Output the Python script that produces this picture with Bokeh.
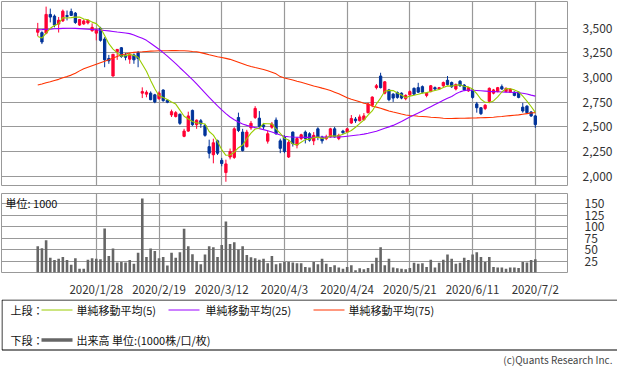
from bokeh.plotting import figure
from bokeh.layouts import column
from bokeh.models import Range1d, FixedTicker, Label, ColumnDataSource, NumeralTickFormatter
from bokeh.embed import file_html
from bokeh.resources import INLINE
from bokeh.core.properties import value
import pandas as pd

# ---------------- data ----------------
month_days = {
    1: [7, 8, 9, 10, 14, 15, 16, 17, 20, 21, 22, 23, 24, 27, 28, 29, 30, 31],
    2: [3, 4, 5, 6, 7, 10, 12, 13, 14, 17, 18, 19, 20, 21, 25, 26, 27, 28],
    3: [2, 3, 4, 5, 6, 9, 10, 11, 12, 13, 16, 17, 18, 19, 23, 24, 25, 26, 27, 30, 31],
    4: [1, 2, 3, 6, 7, 8, 9, 10, 13, 14, 15, 16, 17, 20, 21, 22, 23, 24, 27, 28, 30],
    5: [1, 7, 8, 11, 12, 13, 14, 15, 18, 19, 20, 21, 22, 25, 26, 27, 28, 29],
    6: [1, 2, 3, 4, 5, 8, 9, 10, 11, 12, 15, 16, 17, 18, 19, 22, 23, 24, 25, 26, 29, 30],
    7: [1, 2],
}
dates = [f"2020/{m}/{d}" for m, ds in month_days.items() for d in ds]

tick_labels = ["2020/1/28", "2020/2/19", "2020/3/12", "2020/4/3",
               "2020/4/24", "2020/5/21", "2020/6/11", "2020/7/2"]

opens = [3460, 3456, 3451, 3641, 3624, 3543, 3575, 3630, 3670, 3654,
         3533, 3545, 3555, 3476, 3451, 3500, 3391, 3194, 3016, 3263,
         3303, 3230, 3187, 3230, 3253, 2842, 2832, 2842, 2825, 2786,
         2874, 2770, 2621, 2605, 2628, 2404, 2457, 2667, 2522, 2562,
         2513, 2299, 2217, 2358, 2160, 2036, 2194, 2190, 2595, 2447,
         2299, 2490, 2595, 2588, 2519, 2355, 2496, 2569, 2358, 2397,
         2194, 2447, 2315, 2381, 2447, 2430, 2358, 2480, 2397, 2380,
         2398, 2480, 2381, 2457, 2447, 2539, 2579, 2562, 2572, 2644,
         2720, 2898, 3016, 2842, 2875, 2832, 2848, 2842, 2786, 2825,
         2891, 2898, 2908, 2819, 2858, 2898, 2884, 2917, 2973, 2950,
         2884, 2963, 2924, 2865, 2875, 2733, 2694, 2687, 2759, 2842,
         2858, 2908, 2858, 2852, 2852, 2852, 2700, 2710, 2651, 2611]
highs = [3555, 3470, 3720, 3700, 3640, 3615, 3690, 3680, 3700, 3665,
         3595, 3590, 3590, 3550, 3500, 3515, 3410, 3230, 3240, 3290,
         3310, 3250, 3250, 3245, 3270, 2901, 2870, 2860, 2835, 2860,
         2880, 2775, 2675, 2660, 2635, 2480, 2654, 2675, 2575, 2580,
         2530, 2370, 2380, 2370, 2185, 2167, 2280, 2496, 2644, 2480,
         2470, 2560, 2710, 2660, 2540, 2463, 2550, 2595, 2380, 2414,
         2365, 2453, 2398, 2430, 2463, 2445, 2447, 2496, 2410, 2420,
         2490, 2500, 2430, 2470, 2490, 2620, 2600, 2625, 2640, 2745,
         2810, 2935, 3049, 2965, 2885, 2842, 2860, 2850, 2830, 2870,
         2900, 2947, 2920, 2850, 2925, 2910, 2905, 2960, 3016, 2960,
         2940, 2975, 2935, 2905, 2885, 2753, 2700, 2730, 2900, 2885,
         2905, 2930, 2900, 2890, 2860, 2860, 2743, 2720, 2660, 2620]
lows = [3420, 3340, 3440, 3560, 3510, 3457, 3565, 3580, 3625, 3545,
        3525, 3535, 3540, 3465, 3378, 3365, 3105, 3140, 3010, 3180,
        3200, 3175, 3140, 3140, 3105, 2792, 2800, 2770, 2740, 2775,
        2755, 2740, 2600, 2595, 2520, 2395, 2450, 2510, 2480, 2490,
        2400, 2180, 2130, 2215, 2100, 1943, 2170, 2175, 2447, 2250,
        2290, 2470, 2580, 2490, 2470, 2330, 2480, 2420, 2233, 2233,
        2184, 2300, 2282, 2365, 2332, 2350, 2315, 2365, 2330, 2365,
        2390, 2390, 2365, 2430, 2440, 2530, 2540, 2555, 2565, 2635,
        2700, 2880, 2890, 2830, 2760, 2753, 2785, 2780, 2770, 2815,
        2825, 2845, 2840, 2800, 2850, 2870, 2875, 2905, 2920, 2895,
        2870, 2905, 2865, 2855, 2785, 2644, 2620, 2670, 2740, 2830,
        2850, 2875, 2850, 2845, 2810, 2790, 2644, 2630, 2600, 2490]
closes = [3490, 3361, 3641, 3614, 3533, 3582, 3674, 3620, 3631, 3559,
          3589, 3575, 3580, 3510, 3483, 3378, 3180, 3170, 3236, 3286,
          3214, 3206, 3236, 3180, 3193, 2858, 2851, 2776, 2753, 2842,
          2766, 2750, 2654, 2644, 2536, 2457, 2611, 2522, 2568, 2529,
          2414, 2233, 2338, 2233, 2128, 2124, 2249, 2480, 2463, 2259,
          2447, 2536, 2687, 2503, 2500, 2430, 2529, 2430, 2282, 2250,
          2342, 2330, 2381, 2420, 2381, 2365, 2414, 2398, 2358, 2397,
          2480, 2398, 2414, 2440, 2480, 2585, 2562, 2601, 2611, 2733,
          2802, 2917, 2898, 2957, 2776, 2792, 2799, 2792, 2819, 2858,
          2832, 2852, 2852, 2842, 2917, 2884, 2898, 2950, 2930, 2907,
          2930, 2917, 2875, 2898, 2799, 2694, 2634, 2720, 2891, 2875,
          2898, 2884, 2891, 2884, 2819, 2799, 2661, 2644, 2611, 2523]
volume = [57, 53, 70, 32, 27, 30, 34, 27, 17, 31,
          8, 8, 28, 31, 30, 29, 96, 36, 52, 22,
          23, 22, 27, 19, 43, 161, 34, 52, 47, 31,
          34, 15, 43, 32, 44, 95, 57, 40, 25, 18,
          39, 57, 55, 34, 60, 111, 62, 66, 50, 57,
          38, 33, 31, 28, 30, 20, 36, 18, 20, 23,
          23, 22, 20, 20, 12, 11, 23, 18, 30, 19,
          12, 16, 11, 8, 12, 16, 5, 9, 7, 10,
          19, 32, 55, 16, 30, 11, 9, 8, 7, 10,
          21, 19, 20, 12, 28, 11, 21, 28, 39, 30,
          19, 21, 32, 27, 39, 44, 34, 23, 34, 12,
          11, 11, 8, 11, 11, 10, 23, 22, 27, 29]
ma5_head = [3417, 3401, 3450, 3500]
ma25 = [3485, 3487, 3490, 3492, 3495, 3497, 3499, 3500, 3500, 3499,
        3497, 3494, 3491, 3488, 3485, 3482, 3478, 3474, 3468, 3462,
        3457, 3452, 3446, 3432, 3415, 3398, 3378, 3348, 3318, 3287,
        3253, 3218, 3180, 3142, 3100, 3060, 3020, 2980, 2935, 2890,
        2845, 2800, 2755, 2712, 2672, 2635, 2600, 2572, 2550, 2530,
        2515, 2503, 2492, 2482, 2472, 2460, 2447, 2432, 2418, 2405,
        2400, 2397, 2395, 2394, 2393, 2393, 2394, 2395, 2396, 2397,
        2397, 2397, 2398, 2400, 2405, 2410, 2415, 2420, 2426, 2435,
        2445, 2455, 2470, 2485, 2500, 2515, 2535, 2555, 2578, 2600,
        2620, 2640, 2661, 2683, 2705, 2727, 2748, 2770, 2790, 2809,
        2835, 2855, 2868, 2874, 2872, 2869, 2866, 2863, 2860, 2858,
        2856, 2854, 2852, 2851, 2849, 2846, 2841, 2833, 2822, 2812]
ma75 = [2924, 2935, 2947, 2958, 2970, 2982, 2998, 3010, 3025, 3045,
        3068, 3090, 3105, 3120, 3135, 3150, 3165, 3180, 3198, 3215,
        3232, 3240, 3250, 3256, 3260, 3262, 3265, 3268, 3270, 3272,
        3273, 3273, 3274, 3274, 3273, 3272, 3270, 3265, 3262, 3253,
        3243, 3232, 3222, 3212, 3204, 3195, 3185, 3170, 3155, 3140,
        3125, 3113, 3102, 3092, 3082, 3070, 3055, 3038, 3010, 2995,
        2985, 2975, 2963, 2952, 2940, 2928, 2915, 2905, 2893, 2882,
        2868, 2852, 2835, 2815, 2795, 2780, 2768, 2755, 2740, 2732,
        2712, 2700, 2688, 2675, 2661, 2650, 2640, 2630, 2621, 2616,
        2612, 2608, 2605, 2602, 2598, 2595, 2592, 2588, 2585, 2585,
        2586, 2587, 2588, 2589, 2590, 2591, 2593, 2594, 2595, 2598,
        2602, 2605, 2610, 2614, 2618, 2622, 2628, 2634, 2640, 2644]

price_ticks = [2000, 2250, 2500, 2750, 3000, 3250, 3500]
vol_ticks = [25, 50, 75, 100, 125, 150]

# ---------------- derived ----------------
idx = list(range(len(dates)))
tick_pos = [dates.index(t) for t in tick_labels]
ma5 = pd.Series(closes).rolling(5).mean().tolist()
ma5[:4] = ma5_head

df = pd.DataFrame(dict(x=idx, o=opens, h=highs, l=lows, c=closes, v=volume,
                       ma5=ma5, ma25=ma25, ma75=ma75))
df["top"] = df[["o", "c"]].max(axis=1)
df["bottom"] = df[["o", "c"]].min(axis=1)
up = ColumnDataSource(df[df.c >= df.o])
dn = ColumnDataSource(df[df.c < df.o])
src = ColumnDataSource(df)

FONT = "Noto Sans CJK JP"
UP_C = "#FF0033"
DN_C = "#003399"
MA5_C = "#99CC00"
MA25_C = "#9900FF"
MA75_C = "#FF3300"
GRID_C = "#999999"
VOL_C = "#666666"

X0, X1 = -8.67, 126.7
FW = 566

# ---------------- price panel ----------------
p = figure(frame_width=FW, frame_height=184,
           x_range=Range1d(X0, X1), y_range=Range1d(1905, 3772),
           output_backend="svg", toolbar_location=None,
           x_axis_location=None, y_axis_location="right",
           min_border_left=1, min_border_right=50, min_border_top=1, min_border_bottom=8)
p.outline_line_color = GRID_C
p.xgrid.ticker = FixedTicker(ticks=tick_pos)
p.ygrid.ticker = FixedTicker(ticks=price_ticks)
for g in (p.xgrid, p.ygrid):
    g.grid_line_color = GRID_C
    g.grid_line_width = 1.2
p.yaxis.ticker = FixedTicker(ticks=price_ticks)
p.yaxis.formatter = NumeralTickFormatter(format="0,0")
p.yaxis.axis_line_color = None
p.yaxis.major_tick_line_color = None
p.yaxis.minor_tick_line_color = None
p.yaxis.major_label_standoff = 9
p.yaxis.major_label_text_font = FONT
p.yaxis.major_label_text_font_size = "12px"
p.yaxis.major_label_text_color = "#333333"

for s, col in ((up, UP_C), (dn, DN_C)):
    p.segment(x0="x", y0="l", x1="x", y1="h", source=s, line_color=col, line_width=1)
    p.vbar(x="x", width=0.55, top="top", bottom="bottom", source=s,
           fill_color=col, line_color=col, line_width=1)

p.line("x", "ma75", source=src, line_color=MA75_C, line_width=1.1)
p.line("x", "ma25", source=src, line_color=MA25_C, line_width=1.1)
p.line("x", "ma5", source=src, line_color=MA5_C, line_width=1.1)

# ---------------- volume panel ----------------
VY1 = 172
VFH = 79
v = figure(frame_width=FW, frame_height=VFH,
           x_range=p.x_range, y_range=Range1d(0, VY1),
           output_backend="svg", toolbar_location=None,
           x_axis_location="below", y_axis_location="right",
           min_border_left=1, min_border_right=50, min_border_top=0, min_border_bottom=16)
v.outline_line_color = GRID_C
v.xgrid.ticker = FixedTicker(ticks=tick_pos)
v.ygrid.ticker = FixedTicker(ticks=vol_ticks)
for g in (v.xgrid, v.ygrid):
    g.grid_line_color = GRID_C
    g.grid_line_width = 1.2
v.yaxis.ticker = FixedTicker(ticks=vol_ticks)
v.xaxis.ticker = FixedTicker(ticks=tick_pos)
v.xaxis.major_label_overrides = {pos: lab for pos, lab in zip(tick_pos, tick_labels)}
for ax in (v.xaxis, v.yaxis):
    ax.axis_line_color = None
    ax.major_tick_line_color = None
    ax.minor_tick_line_color = None
    ax.major_label_text_font = FONT
    ax.major_label_text_color = "#333333"
v.yaxis.major_label_text_font_size = "12px"
v.yaxis.major_label_standoff = 11
v.xaxis.major_label_text_font_size = "11.5px"
v.xaxis.major_label_standoff = 2

v.vbar(x="x", width=0.62, top="v", bottom=0, source=src, fill_color=VOL_C, line_color=None)

unit_x = X0 + 4 * (X1 - X0) / FW
unit_y = VY1 - 9 * VY1 / VFH
v.add_layout(Label(x=unit_x, y=unit_y, text="単位: 1000", text_font=FONT,
                   text_font_size="11px", text_baseline="middle", text_color="#111111"))

# ---------------- legend panel ----------------
LW, LH = 617, 69
lg = figure(frame_width=LW, frame_height=LH,
            x_range=Range1d(0, LW), y_range=Range1d(0, LH),
            output_backend="svg", toolbar_location=None,
            x_axis_location=None, y_axis_location=None, min_border=0)
lg.outline_line_color = None
lg.xgrid.visible = False
lg.ygrid.visible = False
lg.quad(left=[0.5], right=[LW - 0.5], top=[LH - 0.5], bottom=[18.5],
        fill_color=None, line_color="black", line_width=1)

row1, row2 = 58.5, 28.5
txt = dict(text_font=value(FONT), text_font_size="11px", text_baseline="middle",
           text_color="#111111")
lg.text(x=[9, 9], y=[row1, row2], text=["上段：", "下段："], **txt)
legend_items = [(40, 71, 75, MA5_C, "単純移動平均(5)"),
                (167, 198, 204, MA25_C, "単純移動平均(25)"),
                (312, 343, 347, MA75_C, "単純移動平均(75)")]
for xa, xb, xt, col, lab in legend_items:
    lg.segment(x0=[xa], x1=[xb], y0=[row1], y1=[row1], line_color=col, line_width=1)
    lg.text(x=[xt], y=[row1], text=[lab], **txt)
lg.segment(x0=[40], x1=[71], y0=[row2], y1=[row2], line_color=VOL_C, line_width=3.5)
lg.text(x=[75], y=[row2], text=["出来高 単位:(1000株/口/枚)"], **txt)
lg.text(x=[611], y=[9], text=["(c)Quants Research Inc."], text_align="right",
        text_baseline="middle", text_font=value(FONT), text_font_size="10px",
        text_color="#444444")

layout = column(p, v, lg, spacing=0)
open("out.html", "w").write(file_html(layout, INLINE))
